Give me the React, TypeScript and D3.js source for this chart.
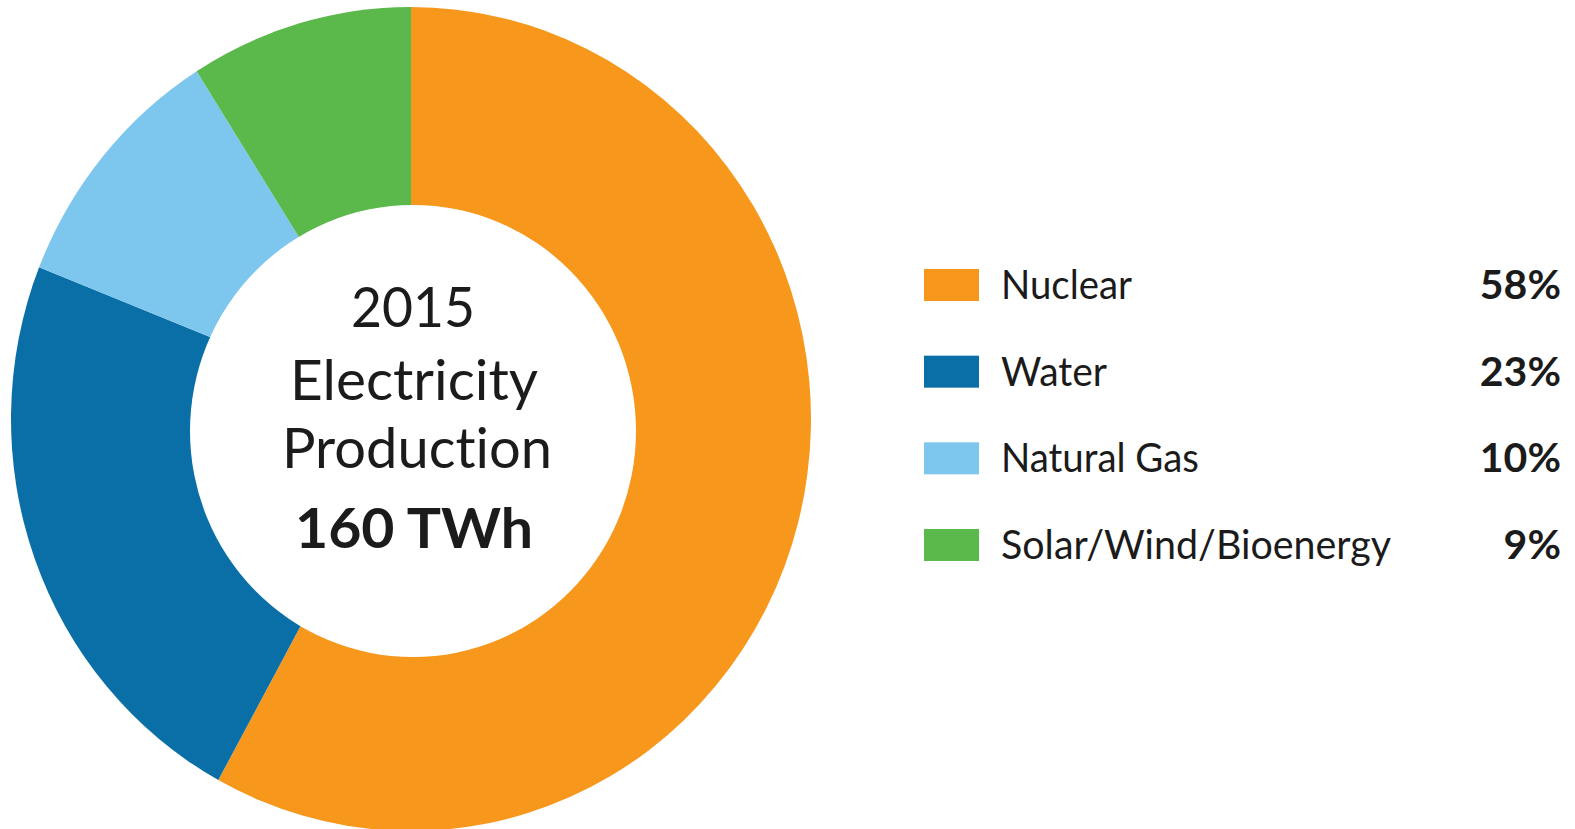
import React from "react";
import * as d3 from "d3";

const categories = ["Nuclear", "Water", "Natural Gas", "Solar/Wind/Bioenergy"];
const shares = [58, 23, 10, 9];
const shareLabels = ["58%", "23%", "10%", "9%"];
const colors = ["#F7981D", "#0A6FA7", "#7DC6EE", "#5BB84A"];
const centerLines = ["2015", "Electricity", "Production"];
const centerTotal = "160 TWh";
const labelWidths = [131, 106, 198, 390];

const W = 1575;
const H = 829;

export default function App() {
  const pie = d3.pie<number>().sort(null).value((d) => d);
  const arcs = pie(shares);
  const arc = d3.arc<d3.PieArcDatum<number>>().innerRadius(0).outerRadius(400);

  const legendY = d3.scalePoint<string>().domain(categories).range([299, 559]);

  const font = "Lato, 'Open Sans', sans-serif";
  const ink = "#1b1b1b";
  const noLig = { fontVariantLigatures: "none" as const, fontFeatureSettings: "'liga' 0, 'clig' 0" };

  return (
    <svg
      width={W}
      height={H}
      style={{ position: "absolute", left: 0, top: 0, background: "#fff" }}
    >
      <g transform={`translate(411,419) scale(1,${412 / 400})`}>
        {arcs.map((a, i) => (
          <path key={categories[i]} d={arc(a) || ""} fill={colors[i]} />
        ))}
      </g>
      <ellipse cx={413} cy={431} rx={223} ry={226} fill="#fff" />

      <g fontFamily={font} fill={ink} textAnchor="middle" style={noLig}>
        <text x={413} y={327} fontSize={56} textLength={124} lengthAdjust="spacingAndGlyphs">
          {centerLines[0]}
        </text>
        <text x={414} y={400} fontSize={56} textLength={248} lengthAdjust="spacingAndGlyphs">
          {centerLines[1]}
        </text>
        <text x={417} y={468} fontSize={56} textLength={270} lengthAdjust="spacingAndGlyphs">
          {centerLines[2]}
        </text>
        <text
          x={414}
          y={548}
          fontSize={56}
          fontWeight={700}
          textLength={238}
          lengthAdjust="spacingAndGlyphs"
        >
          {centerTotal}
        </text>
      </g>

      <g fontFamily={font} fill={ink} style={noLig}>
        {categories.map((c, i) => {
          const y = legendY(c) as number;
          return (
            <g key={c}>
              <rect x={924} y={y - 30} width={55} height={32} fill={colors[i]} />
              <text
                x={1001}
                y={y}
                fontSize={41}
                textLength={labelWidths[i]}
                lengthAdjust="spacingAndGlyphs"
              >
                {c}
              </text>
              <text x={1561} y={y} fontSize={41} fontWeight={700} textAnchor="end">
                {shareLabels[i]}
              </text>
            </g>
          );
        })}
      </g>
    </svg>
  );
}
